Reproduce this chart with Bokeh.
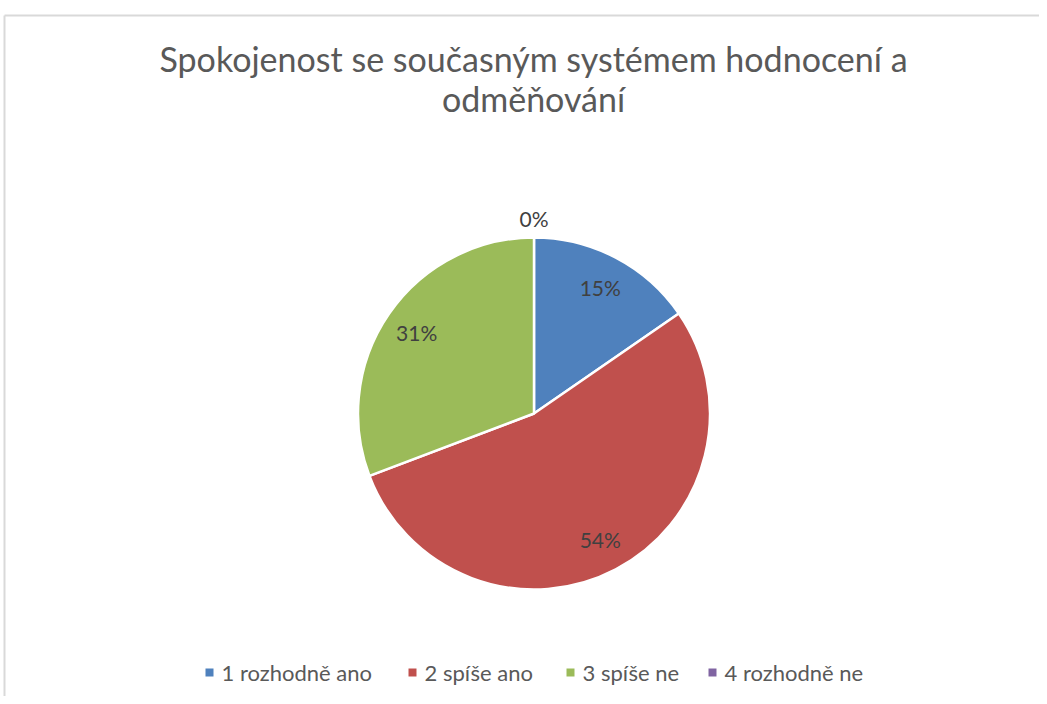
import math
from bokeh.plotting import figure
from bokeh.models import Range1d, ColumnDataSource
from bokeh.core.properties import value
from bokeh.embed import file_html
from bokeh.resources import INLINE

# ---- data ----
title_lines = ["Spokojenost se současným systémem hodnocení a", "odměňování"]
categories = ["1 rozhodně ano", "2 spíše ano", "3 spíše ne", "4 rozhodně ne"]
counts = [2, 7, 4, 0]
colors = ["#4F81BD", "#C0504D", "#9BBB59", "#8064A2"]

# ---- layout ----
W, H = 1039, 696
FONT = "Lato"
cx, cy, R = 533.5, H - 413.0, 176.0
legend_sq_x = [209, 412, 570, 712]
legend_y = H - 672

p = figure(width=W, height=H, x_range=Range1d(0, W), y_range=Range1d(0, H),
           output_backend="svg", toolbar_location=None, min_border=0)
p.axis.visible = False
p.grid.visible = False
p.outline_line_color = None
p.background_fill_color = "white"
p.border_fill_color = "white"

# chart border (top and left edges visible in reference)
p.segment(x0=[4, 4], y0=[H - 15, H - 15], x1=[W, 4], y1=[H - 15, 0],
          line_color="#D9D9D9", line_width=2)

total = sum(counts)
fracs = [c / total for c in counts]
starts, ends, mids = [], [], []
acc = 0.0
for f in fracs:
    starts.append(acc)
    acc += f
    ends.append(acc)
    mids.append((starts[-1] + ends[-1]) / 2)

ws = ColumnDataSource(dict(
    start=[math.pi / 2 - s * 2 * math.pi for s, f in zip(starts, fracs) if f > 0],
    end=[math.pi / 2 - e * 2 * math.pi for e, f in zip(ends, fracs) if f > 0],
    color=[c for c, f in zip(colors, fracs) if f > 0],
))
p.wedge(x=cx, y=cy, radius=R, start_angle="start", end_angle="end",
        direction="clock", fill_color="color", line_color="white",
        line_width=2.5, source=ws)

# data labels
lx, ly, lt = [], [], []
for f, m in zip(fracs, mids):
    a = math.pi / 2 - m * 2 * math.pi
    r = R * (0.81 if f > 0 else 1.11)
    lx.append(cx + r * math.cos(a))
    ly.append(cy + r * math.sin(a))
    lt.append(f"{round(f * 100)}%")
p.text(x=lx, y=ly, text=lt, text_align="center", text_baseline="middle",
       text_font=value(FONT), text_font_size="21px", text_color="#404040")

# title
p.text(x=[533, 533], y=[H - 58, H - 98], text=title_lines,
       text_align="center", text_baseline="middle",
       text_font=value(FONT), text_font_size="34px", text_color="#595959")

# legend
p.rect(x=legend_sq_x, y=[legend_y] * 4, width=8, height=8,
       fill_color=colors, line_color=None)
p.text(x=[x + 12 for x in legend_sq_x], y=[legend_y] * 4, text=categories,
       text_align="left", text_baseline="middle",
       text_font=value(FONT), text_font_size="22px", text_color="#595959")

open("out.html", "w").write(file_html(p, INLINE))
